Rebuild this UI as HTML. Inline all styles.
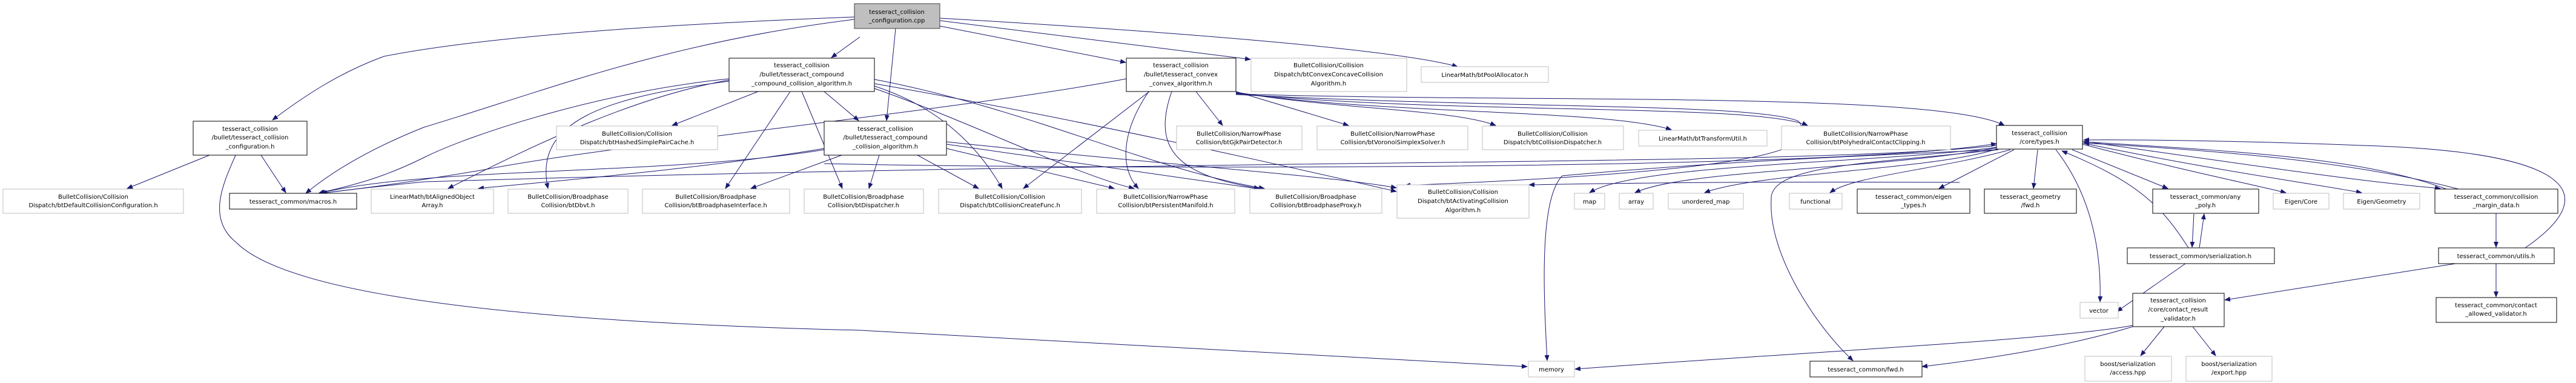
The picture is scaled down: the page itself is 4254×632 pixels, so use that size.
<!DOCTYPE html>
<html><head><meta charset="utf-8"><style>
html,body{margin:0;padding:0;background:#fff;}
svg{display:block;}
text{font-family:"DejaVu Sans","Liberation Sans",sans-serif;font-size:10px;fill:#000;text-anchor:middle;}
.e{fill:none;stroke:#191970;stroke-width:1;}
.b{fill:#fff;stroke:#000;stroke-width:1;}
.g{fill:#fff;stroke:#bfbfbf;stroke-width:1;}
</style></head><body>
<svg width="4254" height="632" viewBox="0 0 4254 632" xmlns="http://www.w3.org/2000/svg">
<defs><marker id="a" markerWidth="10" markerHeight="8" refX="9" refY="4" orient="auto" markerUnits="userSpaceOnUse"><path d="M0,0 L10,4 L0,8 z" fill="#191970"/></marker></defs>
<g class="e" marker-end="url(#a)">
<!-- root edges -->
<path d="M1411,28 C1100,40 800,60 634,93 C560,120 500,160 450,198"/>
<path d="M1411,32 C1100,70 900,150 700,210 C600,250 540,290 505,319"/>
<path d="M1420,61 L1373,95"/>
<path d="M1479,47 L1464,199"/>
<path d="M1552,43 L1859,103"/>
<path d="M1552,34 L2065,98"/>
<path d="M1552,30 C1900,50 2300,80 2407,110"/>
<!-- config.h -->
<path d="M346,256 L210,311"/>
<path d="M431,256 L472,318"/>
<path d="M389,256 C370,300 340,360 390,400 C470,480 800,530 1420,545 L2522,605"/>
<!-- compound_compound -->
<path d="M1204,130 C1000,150 780,220 700,260 C620,300 560,310 526,319"/>
<path d="M1204,132 C1050,160 900,230 740,311"/>
<path d="M1204,134 C1000,160 880,200 905,311"/>
<path d="M1252,151 L1110,207"/>
<path d="M1305,151 L1198,311"/>
<path d="M1324,151 L1391,311"/>
<path d="M1361,151 L1418,199"/>
<path d="M1444,142 C1560,180 1620,250 1655,311"/>
<path d="M1444,146 C1600,200 1780,290 1873,311"/>
<path d="M1444,131 C1700,180 1900,280 2088,311"/>
<path d="M1444,138 C1800,200 2150,280 2306,316"/>
<!-- compound_alg -->
<path d="M1361,247 C1100,290 700,275 528,319"/>
<path d="M1361,245 C1150,280 900,300 790,311"/>
<path d="M1390,256 L1240,311"/>
<path d="M1452,256 L1435,311"/>
<path d="M1515,256 L1616,311"/>
<path d="M1563,245 L1840,311"/>
<path d="M1563,238 L2088,313"/>
<path d="M1563,234 C1900,270 2200,290 2306,310"/>
<path d="M1361,270 C1700,278 3000,285 3297,237"/>
<!-- convex -->
<path d="M1860,130 C1600,180 1000,240 800,280 C620,310 560,315 530,319"/>
<path d="M1898,151 L1690,311"/>
<path d="M1897,151 C1850,220 1850,280 1880,311"/>
<path d="M1935,151 C1900,250 1950,290 2080,311"/>
<path d="M1975,151 L2019,207"/>
<path d="M2041,151 L2227,207"/>
<path d="M2041,152 C2200,180 2400,180 2470,207"/>
<path d="M2041,153 C2300,190 2650,180 2760,214"/>
<path d="M2041,154 C2400,190 2900,170 2985,207"/>
<path d="M2041,155 C2500,170 3200,150 3310,207"/>
<path d="M2041,156 C2500,180 2900,170 2970,200 C3000,240 2970,280 2320,306"/>
<!-- types.h -->
<path d="M3297,240 C3000,275 2000,260 700,300 C600,310 560,315 531,319"/>
<path d="M3297,243 C3100,270 2700,270 2625,318"/>
<path d="M3297,244 C3100,280 2780,280 2700,318"/>
<path d="M3300,245 C3200,280 2900,285 2815,318"/>
<path d="M3320,247 C3200,280 3060,290 3022,318"/>
<path d="M3326,247 L3202,311"/>
<path d="M3365,247 L3358,311"/>
<path d="M3395,247 C3460,330 3470,430 3468,498"/>
<path d="M3422,247 L3580,311"/>
<path d="M3439,238 C3600,280 3700,300 3775,318"/>
<path d="M3439,236 C3650,280 3800,300 3900,318"/>
<path d="M3439,233 C3700,270 3900,300 4030,311"/>
<path d="M3300,247 C3000,260 2800,270 2580,290 C2540,330 2550,500 2555,595"/>
<path d="M3300,247 C3100,270 2920,270 2925,330 C2920,420 3000,540 3060,595"/>
<path d="M3236,301 C2990,300 2800,300 2525,305"/>
<!-- serialization / any_poly -->
<path d="M3614,409 C3570,340 3530,300 3405,249"/>
<path d="M3632,409 L3640,353"/>
<path d="M3623,353 L3620,408"/>
<path d="M3609,435 L3496,514"/>
<!-- margin -->
<path d="M4060,312 C3900,270 3700,250 3441,236"/>
<path d="M4040,312 C3900,260 3700,250 3441,234"/>
<path d="M4122,352 L4122,408"/>
<!-- utils -->
<path d="M4170,409 C4300,320 4250,250 3900,240 C3700,232 3500,230 3441,231"/>
<path d="M4055,435 L3674,495"/>
<path d="M4122,435 L4122,490"/>
<!-- contact_result -->
<path d="M3522,537 C3400,560 3000,580 2601,609"/>
<path d="M3522,539 C3420,570 3300,590 3174,605"/>
<path d="M3574,539 L3535,587"/>
<path d="M3621,539 L3659,587"/>
</g>
<!-- nodes -->
<rect x="1411" y="6" width="141" height="41" fill="#bfbfbf" stroke="#404040"/>
<text x="1481" y="23">tesseract_collision</text><text x="1481" y="37">_configuration.cpp</text>

<rect class="b" x="319" y="200" width="188" height="56"/>
<text x="413" y="216">tesseract_collision</text><text x="413" y="230">/bullet/tesseract_collision</text><text x="413" y="245">_configuration.h</text>

<rect class="b" x="1204" y="96" width="240" height="55"/>
<text x="1324" y="111">tesseract_collision</text><text x="1324" y="126">/bullet/tesseract_compound</text><text x="1324" y="141">_compound_collision_algorithm.h</text>

<rect class="b" x="1361" y="200" width="202" height="56"/>
<text x="1462" y="216">tesseract_collision</text><text x="1462" y="230">/bullet/tesseract_compound</text><text x="1462" y="245">_collision_algorithm.h</text>

<rect class="b" x="1860" y="96" width="181" height="55"/>
<text x="1950" y="111">tesseract_collision</text><text x="1950" y="126">/bullet/tesseract_convex</text><text x="1950" y="141">_convex_algorithm.h</text>

<rect class="g" x="5" y="312" width="298" height="40"/>
<text x="154" y="328">BulletCollision/Collision</text><text x="154" y="342">Dispatch/btDefaultCollisionConfiguration.h</text>

<rect class="b" x="379" y="319" width="210" height="26"/>
<text x="484" y="336">tesseract_common/macros.h</text>

<rect class="g" x="613" y="312" width="202" height="40"/>
<text x="714" y="328">LinearMath/btAlignedObject</text><text x="714" y="342">Array.h</text>

<rect class="g" x="839" y="312" width="198" height="40"/>
<text x="938" y="328">BulletCollision/Broadphase</text><text x="938" y="342">Collision/btDbvt.h</text>

<rect class="g" x="1061" y="312" width="243" height="40"/>
<text x="1182" y="328">BulletCollision/Broadphase</text><text x="1182" y="342">Collision/btBroadphaseInterface.h</text>

<rect class="g" x="1328" y="312" width="197" height="40"/>
<text x="1426" y="328">BulletCollision/Broadphase</text><text x="1426" y="342">Collision/btDispatcher.h</text>

<rect class="g" x="919" y="208" width="266" height="39"/>
<text x="1052" y="224">BulletCollision/Collision</text><text x="1052" y="238">Dispatch/btHashedSimplePairCache.h</text>

<rect class="g" x="2066" y="96" width="257" height="55"/>
<text x="2194" y="111">BulletCollision/Collision</text><text x="2194" y="126">Dispatch/btConvexConcaveCollision</text><text x="2194" y="141">Algorithm.h</text>

<rect class="g" x="2347" y="110" width="210" height="26"/>
<text x="2452" y="127">LinearMath/btPoolAllocator.h</text>

<rect class="g" x="1943" y="208" width="207" height="39"/>
<text x="2046" y="224">BulletCollision/NarrowPhase</text><text x="2046" y="238">Collision/btGjkPairDetector.h</text>

<rect class="g" x="2175" y="208" width="249" height="39"/>
<text x="2300" y="224">BulletCollision/NarrowPhase</text><text x="2300" y="238">Collision/btVoronoiSimplexSolver.h</text>

<rect class="g" x="2448" y="208" width="233" height="39"/>
<text x="2564" y="224">BulletCollision/Collision</text><text x="2564" y="238">Dispatch/btCollisionDispatcher.h</text>

<rect class="g" x="2706" y="215" width="212" height="26"/>
<text x="2812" y="232">LinearMath/btTransformUtil.h</text>

<rect class="g" x="1550" y="312" width="236" height="40"/>
<text x="1668" y="328">BulletCollision/Collision</text><text x="1668" y="342">Dispatch/btCollisionCreateFunc.h</text>

<rect class="g" x="1811" y="312" width="228" height="40"/>
<text x="1925" y="328">BulletCollision/NarrowPhase</text><text x="1925" y="342">Collision/btPersistentManifold.h</text>

<rect class="g" x="2064" y="312" width="218" height="40"/>
<text x="2173" y="328">BulletCollision/Broadphase</text><text x="2173" y="342">Collision/btBroadphaseProxy.h</text>

<rect class="g" x="2307" y="305" width="218" height="55"/>
<text x="2416" y="320">BulletCollision/Collision</text><text x="2416" y="335">Dispatch/btActivatingCollision</text><text x="2416" y="350">Algorithm.h</text>

<rect class="g" x="2600" y="319" width="50" height="26"/><text x="2625" y="336">map</text>
<rect class="g" x="2674" y="319" width="56" height="26"/><text x="2702" y="336">array</text>
<rect class="g" x="2755" y="319" width="124" height="26"/><text x="2817" y="336">unordered_map</text>
<rect class="g" x="2524" y="596" width="76" height="26"/><text x="2562" y="613">memory</text>

<rect class="g" x="2942" y="208" width="279" height="39"/>
<text x="3081" y="224">BulletCollision/NarrowPhase</text><text x="3081" y="238">Collision/btPolyhedralContactClipping.h</text>

<rect class="b" x="3297" y="207" width="142" height="39"/>
<text x="3368" y="223">tesseract_collision</text><text x="3368" y="237">/core/types.h</text>

<rect class="g" x="2955" y="319" width="87" height="26"/><text x="2998" y="336">functional</text>

<rect class="b" x="3067" y="312" width="186" height="40"/>
<text x="3160" y="328">tesseract_common/eigen</text><text x="3160" y="342">_types.h</text>

<rect class="b" x="3277" y="312" width="152" height="40"/>
<text x="3353" y="328">tesseract_geometry</text><text x="3353" y="342">/fwd.h</text>

<rect class="b" x="3555" y="312" width="175" height="40"/>
<text x="3642" y="328">tesseract_common/any</text><text x="3642" y="342">_poly.h</text>

<rect class="g" x="3754" y="319" width="92" height="26"/><text x="3800" y="336">Eigen/Core</text>
<rect class="g" x="3870" y="319" width="126" height="26"/><text x="3933" y="336">Eigen/Geometry</text>

<rect class="b" x="4021" y="312" width="203" height="40"/>
<text x="4122" y="328">tesseract_common/collision</text><text x="4122" y="342">_margin_data.h</text>

<rect class="b" x="3513" y="409" width="243" height="26"/>
<text x="3634" y="426">tesseract_common/serialization.h</text>

<rect class="b" x="4027" y="409" width="191" height="26"/>
<text x="4122" y="426">tesseract_common/utils.h</text>

<rect class="g" x="3435" y="499" width="63" height="26"/><text x="3466" y="516">vector</text>

<rect class="b" x="3522" y="484" width="151" height="55"/>
<text x="3597" y="499">tesseract_collision</text><text x="3597" y="514">/core/contact_result</text><text x="3597" y="529">_validator.h</text>

<rect class="b" x="4023" y="491" width="199" height="41"/>
<text x="4122" y="507">tesseract_common/contact</text><text x="4122" y="521">_allowed_validator.h</text>

<rect class="b" x="2989" y="596" width="185" height="26"/>
<text x="3081" y="613">tesseract_common/fwd.h</text>

<rect class="g" x="3443" y="588" width="143" height="41"/>
<text x="3514" y="604">boost/serialization</text><text x="3514" y="618">/access.hpp</text>

<rect class="g" x="3610" y="588" width="142" height="41"/>
<text x="3681" y="604">boost/serialization</text><text x="3681" y="618">/export.hpp</text>
</svg>
</body></html>
